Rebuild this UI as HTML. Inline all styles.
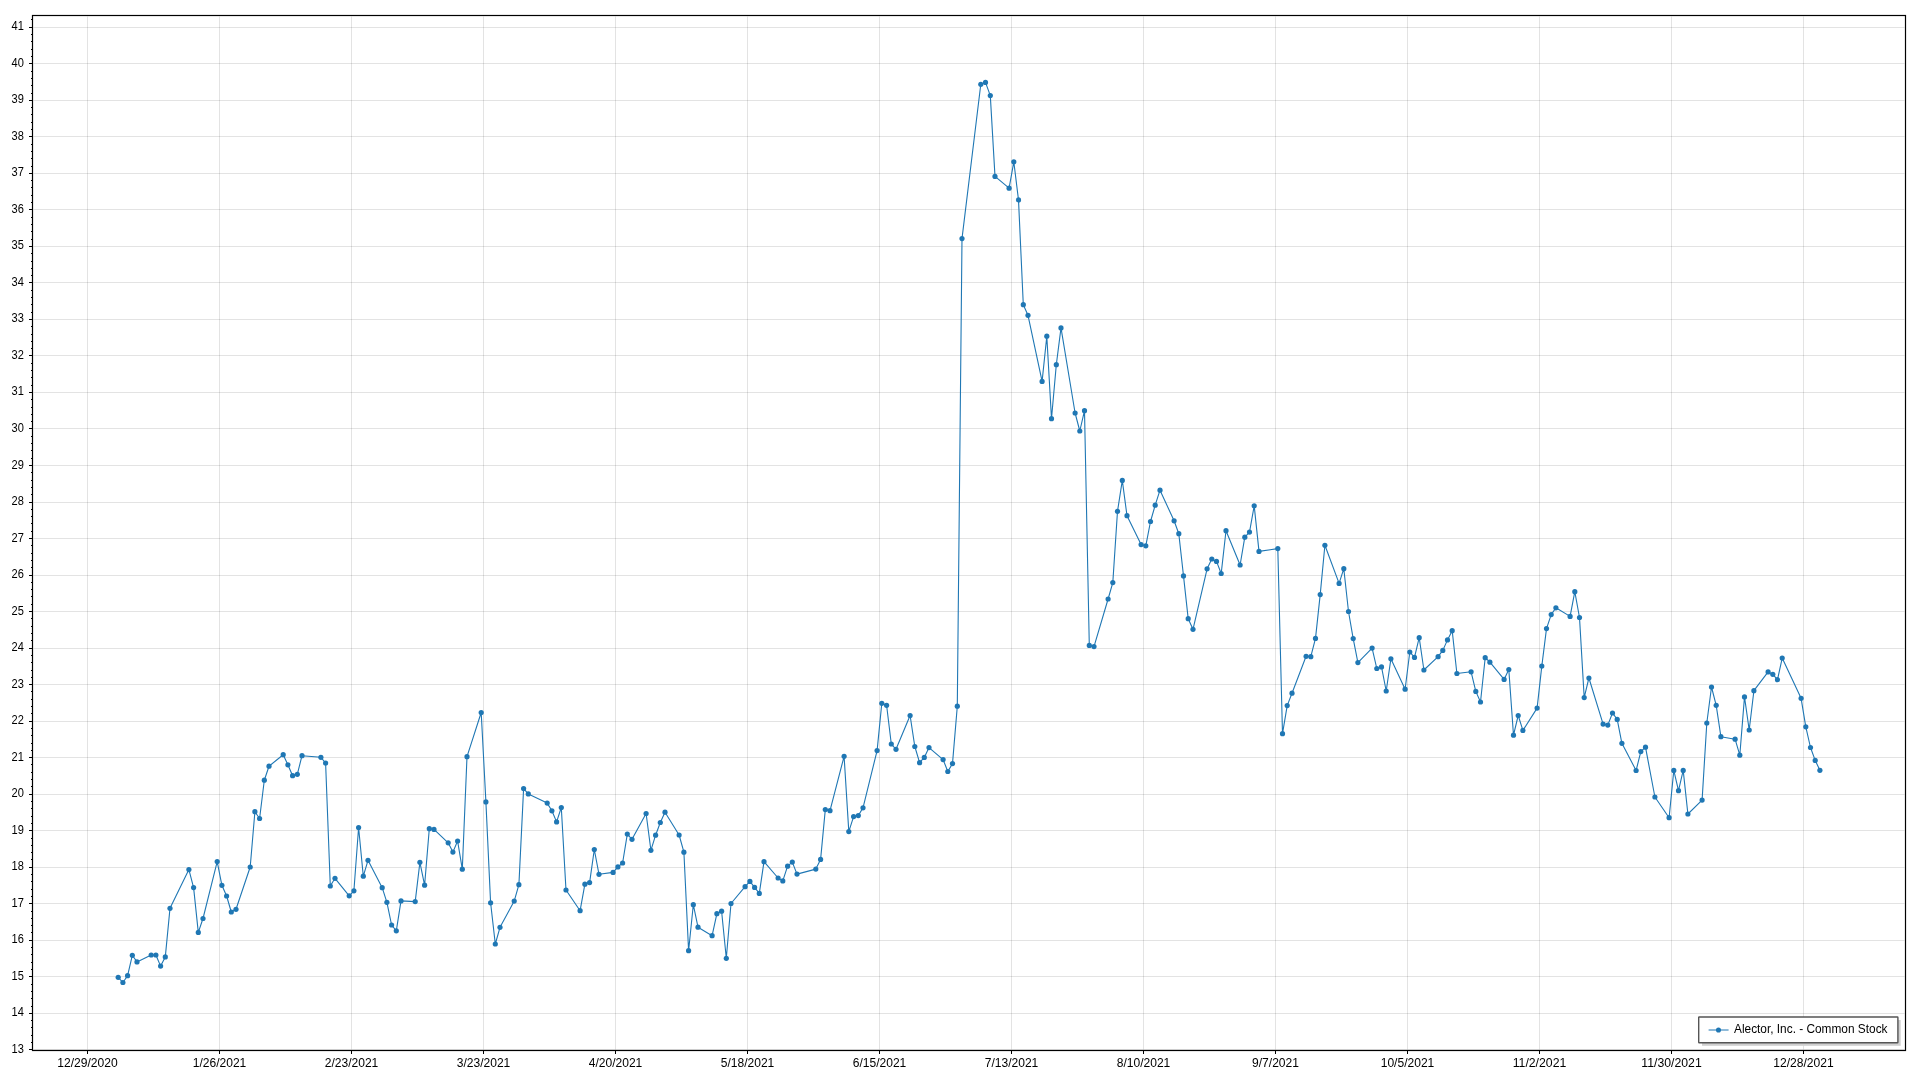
<!DOCTYPE html><html><head><meta charset="utf-8"><style>html,body{margin:0;padding:0;background:#fff;width:1920px;height:1080px;overflow:hidden}svg{display:block;will-change:transform}text{font-family:"Liberation Sans",sans-serif}</style></head><body>
<svg width="1920" height="1080" viewBox="0 0 1920 1080">
<rect x="0" y="0" width="1920" height="1080" fill="#fff"/>
<path d="M33.5 1049.5H1904.5 M33.5 1013.5H1904.5 M33.5 976.5H1904.5 M33.5 940.5H1904.5 M33.5 903.5H1904.5 M33.5 867.5H1904.5 M33.5 830.5H1904.5 M33.5 794.5H1904.5 M33.5 757.5H1904.5 M33.5 721.5H1904.5 M33.5 684.5H1904.5 M33.5 648.5H1904.5 M33.5 611.5H1904.5 M33.5 575.5H1904.5 M33.5 538.5H1904.5 M33.5 502.5H1904.5 M33.5 465.5H1904.5 M33.5 428.5H1904.5 M33.5 392.5H1904.5 M33.5 355.5H1904.5 M33.5 319.5H1904.5 M33.5 282.5H1904.5 M33.5 246.5H1904.5 M33.5 209.5H1904.5 M33.5 173.5H1904.5 M33.5 136.5H1904.5 M33.5 100.5H1904.5 M33.5 63.5H1904.5 M33.5 27.5H1904.5 M87.5 16.5V1049.5 M219.5 16.5V1049.5 M351.5 16.5V1049.5 M483.5 16.5V1049.5 M615.5 16.5V1049.5 M747.5 16.5V1049.5 M879.5 16.5V1049.5 M1011.5 16.5V1049.5 M1143.5 16.5V1049.5 M1275.5 16.5V1049.5 M1407.5 16.5V1049.5 M1539.5 16.5V1049.5 M1671.5 16.5V1049.5 M1803.5 16.5V1049.5" stroke="#000" stroke-opacity="0.11" stroke-width="1" fill="none"/>
<path d="M29.0 1049.5H32.5 M29.0 1013.5H32.5 M29.0 976.5H32.5 M29.0 940.5H32.5 M29.0 903.5H32.5 M29.0 867.5H32.5 M29.0 830.5H32.5 M29.0 794.5H32.5 M29.0 757.5H32.5 M29.0 721.5H32.5 M29.0 684.5H32.5 M29.0 648.5H32.5 M29.0 611.5H32.5 M29.0 575.5H32.5 M29.0 538.5H32.5 M29.0 502.5H32.5 M29.0 465.5H32.5 M29.0 428.5H32.5 M29.0 392.5H32.5 M29.0 355.5H32.5 M29.0 319.5H32.5 M29.0 282.5H32.5 M29.0 246.5H32.5 M29.0 209.5H32.5 M29.0 173.5H32.5 M29.0 136.5H32.5 M29.0 100.5H32.5 M29.0 63.5H32.5 M29.0 27.5H32.5 M31.0 1042.5H32.5 M31.0 1035.5H32.5 M31.0 1027.5H32.5 M31.0 1020.5H32.5 M31.0 1006.5H32.5 M31.0 998.5H32.5 M31.0 991.5H32.5 M31.0 984.5H32.5 M31.0 969.5H32.5 M31.0 962.5H32.5 M31.0 954.5H32.5 M31.0 947.5H32.5 M31.0 932.5H32.5 M31.0 925.5H32.5 M31.0 918.5H32.5 M31.0 911.5H32.5 M31.0 896.5H32.5 M31.0 889.5H32.5 M31.0 881.5H32.5 M31.0 874.5H32.5 M31.0 859.5H32.5 M31.0 852.5H32.5 M31.0 845.5H32.5 M31.0 838.5H32.5 M31.0 823.5H32.5 M31.0 816.5H32.5 M31.0 808.5H32.5 M31.0 801.5H32.5 M31.0 786.5H32.5 M31.0 779.5H32.5 M31.0 772.5H32.5 M31.0 764.5H32.5 M31.0 750.5H32.5 M31.0 743.5H32.5 M31.0 735.5H32.5 M31.0 728.5H32.5 M31.0 713.5H32.5 M31.0 706.5H32.5 M31.0 699.5H32.5 M31.0 691.5H32.5 M31.0 677.5H32.5 M31.0 670.5H32.5 M31.0 662.5H32.5 M31.0 655.5H32.5 M31.0 640.5H32.5 M31.0 633.5H32.5 M31.0 626.5H32.5 M31.0 618.5H32.5 M31.0 604.5H32.5 M31.0 596.5H32.5 M31.0 589.5H32.5 M31.0 582.5H32.5 M31.0 567.5H32.5 M31.0 560.5H32.5 M31.0 553.5H32.5 M31.0 545.5H32.5 M31.0 531.5H32.5 M31.0 523.5H32.5 M31.0 516.5H32.5 M31.0 509.5H32.5 M31.0 494.5H32.5 M31.0 487.5H32.5 M31.0 480.5H32.5 M31.0 472.5H32.5 M31.0 458.5H32.5 M31.0 450.5H32.5 M31.0 443.5H32.5 M31.0 436.5H32.5 M31.0 421.5H32.5 M31.0 414.5H32.5 M31.0 407.5H32.5 M31.0 399.5H32.5 M31.0 385.5H32.5 M31.0 377.5H32.5 M31.0 370.5H32.5 M31.0 363.5H32.5 M31.0 348.5H32.5 M31.0 341.5H32.5 M31.0 334.5H32.5 M31.0 326.5H32.5 M31.0 312.5H32.5 M31.0 304.5H32.5 M31.0 297.5H32.5 M31.0 290.5H32.5 M31.0 275.5H32.5 M31.0 268.5H32.5 M31.0 261.5H32.5 M31.0 253.5H32.5 M31.0 239.5H32.5 M31.0 231.5H32.5 M31.0 224.5H32.5 M31.0 217.5H32.5 M31.0 202.5H32.5 M31.0 195.5H32.5 M31.0 187.5H32.5 M31.0 180.5H32.5 M31.0 166.5H32.5 M31.0 158.5H32.5 M31.0 151.5H32.5 M31.0 144.5H32.5 M31.0 129.5H32.5 M31.0 122.5H32.5 M31.0 114.5H32.5 M31.0 107.5H32.5 M31.0 93.5H32.5 M31.0 85.5H32.5 M31.0 78.5H32.5 M31.0 71.5H32.5 M31.0 56.5H32.5 M31.0 49.5H32.5 M31.0 41.5H32.5 M31.0 34.5H32.5 M31.0 19.5H32.5 M87.5 1050.5V1054.0 M219.5 1050.5V1054.0 M351.5 1050.5V1054.0 M483.5 1050.5V1054.0 M615.5 1050.5V1054.0 M747.5 1050.5V1054.0 M879.5 1050.5V1054.0 M1011.5 1050.5V1054.0 M1143.5 1050.5V1054.0 M1275.5 1050.5V1054.0 M1407.5 1050.5V1054.0 M1539.5 1050.5V1054.0 M1671.5 1050.5V1054.0 M1803.5 1050.5V1054.0" stroke="#000" stroke-width="1" fill="none"/>
<rect x="32.5" y="15.5" width="1873.0" height="1035.0" fill="none" stroke="#000" stroke-width="1.2"/>
<text x="23.9" y="1052.8" font-size="12.5" text-anchor="end" fill="#000" textLength="12.3" lengthAdjust="spacingAndGlyphs">13</text>
<text x="23.9" y="1015.8" font-size="12.5" text-anchor="end" fill="#000" textLength="12.3" lengthAdjust="spacingAndGlyphs">14</text>
<text x="23.9" y="979.8" font-size="12.5" text-anchor="end" fill="#000" textLength="12.3" lengthAdjust="spacingAndGlyphs">15</text>
<text x="23.9" y="942.8" font-size="12.5" text-anchor="end" fill="#000" textLength="12.3" lengthAdjust="spacingAndGlyphs">16</text>
<text x="23.9" y="906.8" font-size="12.5" text-anchor="end" fill="#000" textLength="12.3" lengthAdjust="spacingAndGlyphs">17</text>
<text x="23.9" y="869.8" font-size="12.5" text-anchor="end" fill="#000" textLength="12.3" lengthAdjust="spacingAndGlyphs">18</text>
<text x="23.9" y="833.8" font-size="12.5" text-anchor="end" fill="#000" textLength="12.3" lengthAdjust="spacingAndGlyphs">19</text>
<text x="23.9" y="796.8" font-size="12.5" text-anchor="end" fill="#000" textLength="12.3" lengthAdjust="spacingAndGlyphs">20</text>
<text x="23.9" y="760.8" font-size="12.5" text-anchor="end" fill="#000" textLength="12.3" lengthAdjust="spacingAndGlyphs">21</text>
<text x="23.9" y="723.8" font-size="12.5" text-anchor="end" fill="#000" textLength="12.3" lengthAdjust="spacingAndGlyphs">22</text>
<text x="23.9" y="687.8" font-size="12.5" text-anchor="end" fill="#000" textLength="12.3" lengthAdjust="spacingAndGlyphs">23</text>
<text x="23.9" y="650.8" font-size="12.5" text-anchor="end" fill="#000" textLength="12.3" lengthAdjust="spacingAndGlyphs">24</text>
<text x="23.9" y="614.8" font-size="12.5" text-anchor="end" fill="#000" textLength="12.3" lengthAdjust="spacingAndGlyphs">25</text>
<text x="23.9" y="577.8" font-size="12.5" text-anchor="end" fill="#000" textLength="12.3" lengthAdjust="spacingAndGlyphs">26</text>
<text x="23.9" y="541.8" font-size="12.5" text-anchor="end" fill="#000" textLength="12.3" lengthAdjust="spacingAndGlyphs">27</text>
<text x="23.9" y="504.8" font-size="12.5" text-anchor="end" fill="#000" textLength="12.3" lengthAdjust="spacingAndGlyphs">28</text>
<text x="23.9" y="468.8" font-size="12.5" text-anchor="end" fill="#000" textLength="12.3" lengthAdjust="spacingAndGlyphs">29</text>
<text x="23.9" y="431.8" font-size="12.5" text-anchor="end" fill="#000" textLength="12.3" lengthAdjust="spacingAndGlyphs">30</text>
<text x="23.9" y="394.8" font-size="12.5" text-anchor="end" fill="#000" textLength="12.3" lengthAdjust="spacingAndGlyphs">31</text>
<text x="23.9" y="358.8" font-size="12.5" text-anchor="end" fill="#000" textLength="12.3" lengthAdjust="spacingAndGlyphs">32</text>
<text x="23.9" y="321.8" font-size="12.5" text-anchor="end" fill="#000" textLength="12.3" lengthAdjust="spacingAndGlyphs">33</text>
<text x="23.9" y="285.8" font-size="12.5" text-anchor="end" fill="#000" textLength="12.3" lengthAdjust="spacingAndGlyphs">34</text>
<text x="23.9" y="248.8" font-size="12.5" text-anchor="end" fill="#000" textLength="12.3" lengthAdjust="spacingAndGlyphs">35</text>
<text x="23.9" y="212.8" font-size="12.5" text-anchor="end" fill="#000" textLength="12.3" lengthAdjust="spacingAndGlyphs">36</text>
<text x="23.9" y="175.8" font-size="12.5" text-anchor="end" fill="#000" textLength="12.3" lengthAdjust="spacingAndGlyphs">37</text>
<text x="23.9" y="139.8" font-size="12.5" text-anchor="end" fill="#000" textLength="12.3" lengthAdjust="spacingAndGlyphs">38</text>
<text x="23.9" y="102.8" font-size="12.5" text-anchor="end" fill="#000" textLength="12.3" lengthAdjust="spacingAndGlyphs">39</text>
<text x="23.9" y="66.8" font-size="12.5" text-anchor="end" fill="#000" textLength="12.3" lengthAdjust="spacingAndGlyphs">40</text>
<text x="23.9" y="29.8" font-size="12.5" text-anchor="end" fill="#000" textLength="12.3" lengthAdjust="spacingAndGlyphs">41</text>
<text x="87.5" y="1067" font-size="12.5" text-anchor="middle" fill="#000" textLength="60.4" lengthAdjust="spacingAndGlyphs">12/29/2020</text>
<text x="219.5" y="1067" font-size="12.5" text-anchor="middle" fill="#000" textLength="53.6" lengthAdjust="spacingAndGlyphs">1/26/2021</text>
<text x="351.5" y="1067" font-size="12.5" text-anchor="middle" fill="#000" textLength="53.6" lengthAdjust="spacingAndGlyphs">2/23/2021</text>
<text x="483.5" y="1067" font-size="12.5" text-anchor="middle" fill="#000" textLength="53.6" lengthAdjust="spacingAndGlyphs">3/23/2021</text>
<text x="615.5" y="1067" font-size="12.5" text-anchor="middle" fill="#000" textLength="53.6" lengthAdjust="spacingAndGlyphs">4/20/2021</text>
<text x="747.5" y="1067" font-size="12.5" text-anchor="middle" fill="#000" textLength="53.6" lengthAdjust="spacingAndGlyphs">5/18/2021</text>
<text x="879.5" y="1067" font-size="12.5" text-anchor="middle" fill="#000" textLength="53.6" lengthAdjust="spacingAndGlyphs">6/15/2021</text>
<text x="1011.5" y="1067" font-size="12.5" text-anchor="middle" fill="#000" textLength="53.6" lengthAdjust="spacingAndGlyphs">7/13/2021</text>
<text x="1143.5" y="1067" font-size="12.5" text-anchor="middle" fill="#000" textLength="53.6" lengthAdjust="spacingAndGlyphs">8/10/2021</text>
<text x="1275.5" y="1067" font-size="12.5" text-anchor="middle" fill="#000" textLength="46.9" lengthAdjust="spacingAndGlyphs">9/7/2021</text>
<text x="1407.5" y="1067" font-size="12.5" text-anchor="middle" fill="#000" textLength="53.6" lengthAdjust="spacingAndGlyphs">10/5/2021</text>
<text x="1539.5" y="1067" font-size="12.5" text-anchor="middle" fill="#000" textLength="53.6" lengthAdjust="spacingAndGlyphs">11/2/2021</text>
<text x="1671.5" y="1067" font-size="12.5" text-anchor="middle" fill="#000" textLength="60.4" lengthAdjust="spacingAndGlyphs">11/30/2021</text>
<text x="1803.5" y="1067" font-size="12.5" text-anchor="middle" fill="#000" textLength="60.4" lengthAdjust="spacingAndGlyphs">12/28/2021</text>
<path d="M118.2 977.3 L122.9 982.5 L127.6 975.7 L132.3 955.3 L137.0 961.9 L151.2 955.0 L155.9 955.0 L160.6 966.1 L165.3 956.9 L170.0 908.3 L188.9 869.6 L193.6 887.6 L198.3 932.4 L203.0 918.5 L217.2 861.6 L221.9 885.3 L226.6 896.0 L231.3 912.0 L236.0 909.3 L250.2 867.0 L254.9 811.7 L259.6 818.5 L264.3 780.2 L269.0 766.2 L283.2 754.7 L287.9 764.8 L292.6 775.7 L297.3 774.3 L302.0 755.7 L320.9 757.3 L325.6 763.0 L330.3 886.0 L335.0 878.3 L349.2 895.8 L353.9 890.8 L358.6 827.5 L363.3 876.2 L368.0 860.3 L382.2 887.7 L386.9 902.3 L391.6 925.0 L396.3 930.8 L401.0 900.9 L415.2 901.6 L419.9 862.3 L424.6 885.2 L429.3 828.7 L434.0 829.4 L448.2 842.8 L452.9 852.1 L457.6 841.0 L462.3 869.2 L467.0 756.7 L481.2 712.5 L485.9 801.9 L490.6 902.8 L495.3 944.0 L500.0 927.3 L514.2 901.1 L518.9 884.7 L523.6 788.6 L528.3 793.9 L547.2 803.1 L551.9 810.8 L556.6 821.9 L561.3 807.5 L566.0 890.0 L580.1 910.7 L584.9 884.2 L589.6 882.6 L594.3 849.5 L599.0 874.3 L613.1 872.4 L617.9 866.9 L622.6 863.0 L627.3 834.1 L632.0 839.3 L646.1 813.5 L650.9 850.3 L655.6 835.2 L660.3 822.5 L665.0 812.2 L679.1 835.0 L683.9 852.2 L688.6 950.7 L693.3 904.7 L698.0 927.2 L712.1 935.7 L716.9 913.7 L721.6 911.2 L726.3 958.3 L731.0 903.5 L745.1 886.7 L749.9 881.4 L754.6 887.4 L759.3 893.4 L764.0 861.7 L778.1 878.0 L782.8 880.9 L787.6 866.2 L792.3 862.1 L797.0 874.1 L815.8 869.1 L820.6 859.4 L825.3 809.6 L830.0 810.7 L844.1 756.3 L848.8 831.6 L853.6 816.6 L858.3 815.6 L863.0 807.8 L877.1 750.6 L881.8 703.3 L886.6 705.3 L891.3 744.0 L896.0 749.3 L910.1 715.5 L914.8 746.5 L919.6 762.7 L924.3 757.4 L929.0 747.6 L943.1 759.6 L947.8 771.5 L952.5 763.6 L957.3 706.2 L962.0 238.6 L980.8 84.3 L985.5 82.4 L990.3 95.6 L995.0 176.4 L1009.1 188.2 L1013.8 161.8 L1018.5 199.9 L1023.3 304.7 L1028.0 315.3 L1042.1 381.4 L1046.8 336.2 L1051.5 418.7 L1056.3 364.7 L1061.0 327.9 L1075.1 413.0 L1079.8 431.0 L1084.5 410.7 L1089.3 645.4 L1094.0 646.6 L1108.1 599.0 L1112.8 582.6 L1117.5 511.3 L1122.3 480.4 L1127.0 515.7 L1141.1 544.6 L1145.8 545.8 L1150.5 521.5 L1155.2 505.2 L1160.0 490.2 L1174.1 520.8 L1178.8 533.7 L1183.5 575.9 L1188.2 618.7 L1193.0 629.3 L1207.1 568.8 L1211.8 559.0 L1216.5 561.4 L1221.2 573.5 L1226.0 530.7 L1240.1 565.0 L1244.8 537.2 L1249.5 532.1 L1254.2 505.8 L1259.0 551.4 L1277.8 548.6 L1282.5 733.7 L1287.2 705.6 L1292.0 693.2 L1306.1 656.3 L1310.8 656.7 L1315.5 638.4 L1320.2 594.6 L1324.9 545.3 L1339.1 583.4 L1343.8 568.7 L1348.5 611.5 L1353.2 638.6 L1357.9 662.6 L1372.1 648.1 L1376.8 668.5 L1381.5 666.9 L1386.2 691.0 L1390.9 658.8 L1405.1 689.2 L1409.8 652.0 L1414.5 657.4 L1419.2 637.7 L1423.9 670.0 L1438.1 656.7 L1442.8 650.4 L1447.5 639.9 L1452.2 630.7 L1456.9 673.5 L1471.1 671.8 L1475.8 691.4 L1480.5 702.0 L1485.2 657.7 L1489.9 662.2 L1504.1 679.4 L1508.8 669.5 L1513.5 735.2 L1518.2 715.5 L1522.9 730.4 L1537.1 708.1 L1541.8 666.1 L1546.5 628.6 L1551.2 614.6 L1555.9 607.8 L1570.1 616.4 L1574.8 591.7 L1579.5 617.5 L1584.2 697.6 L1588.9 678.0 L1603.1 724.1 L1607.8 725.1 L1612.5 713.0 L1617.2 719.4 L1621.9 743.3 L1636.1 770.5 L1640.8 751.6 L1645.5 747.2 L1654.9 797.0 L1669.1 817.7 L1673.8 770.4 L1678.5 790.7 L1683.2 770.4 L1687.9 814.0 L1702.1 800.1 L1706.8 723.0 L1711.5 687.0 L1716.2 705.3 L1720.9 736.7 L1735.1 739.2 L1739.8 755.2 L1744.5 696.9 L1749.2 730.0 L1753.9 690.7 L1768.1 671.9 L1772.8 674.3 L1777.5 679.7 L1782.2 658.1 L1801.1 698.3 L1805.8 726.8 L1810.5 747.5 L1815.2 760.4 L1819.9 770.3" stroke="#1f77b4" stroke-width="1.1" fill="none" stroke-linejoin="round"/>
<g fill="#1f77b4"><circle cx="118.2" cy="977.3" r="2.6"/><circle cx="122.9" cy="982.5" r="2.6"/><circle cx="127.6" cy="975.7" r="2.6"/><circle cx="132.3" cy="955.3" r="2.6"/><circle cx="137.0" cy="961.9" r="2.6"/><circle cx="151.2" cy="955.0" r="2.6"/><circle cx="155.9" cy="955.0" r="2.6"/><circle cx="160.6" cy="966.1" r="2.6"/><circle cx="165.3" cy="956.9" r="2.6"/><circle cx="170.0" cy="908.3" r="2.6"/><circle cx="188.9" cy="869.6" r="2.6"/><circle cx="193.6" cy="887.6" r="2.6"/><circle cx="198.3" cy="932.4" r="2.6"/><circle cx="203.0" cy="918.5" r="2.6"/><circle cx="217.2" cy="861.6" r="2.6"/><circle cx="221.9" cy="885.3" r="2.6"/><circle cx="226.6" cy="896.0" r="2.6"/><circle cx="231.3" cy="912.0" r="2.6"/><circle cx="236.0" cy="909.3" r="2.6"/><circle cx="250.2" cy="867.0" r="2.6"/><circle cx="254.9" cy="811.7" r="2.6"/><circle cx="259.6" cy="818.5" r="2.6"/><circle cx="264.3" cy="780.2" r="2.6"/><circle cx="269.0" cy="766.2" r="2.6"/><circle cx="283.2" cy="754.7" r="2.6"/><circle cx="287.9" cy="764.8" r="2.6"/><circle cx="292.6" cy="775.7" r="2.6"/><circle cx="297.3" cy="774.3" r="2.6"/><circle cx="302.0" cy="755.7" r="2.6"/><circle cx="320.9" cy="757.3" r="2.6"/><circle cx="325.6" cy="763.0" r="2.6"/><circle cx="330.3" cy="886.0" r="2.6"/><circle cx="335.0" cy="878.3" r="2.6"/><circle cx="349.2" cy="895.8" r="2.6"/><circle cx="353.9" cy="890.8" r="2.6"/><circle cx="358.6" cy="827.5" r="2.6"/><circle cx="363.3" cy="876.2" r="2.6"/><circle cx="368.0" cy="860.3" r="2.6"/><circle cx="382.2" cy="887.7" r="2.6"/><circle cx="386.9" cy="902.3" r="2.6"/><circle cx="391.6" cy="925.0" r="2.6"/><circle cx="396.3" cy="930.8" r="2.6"/><circle cx="401.0" cy="900.9" r="2.6"/><circle cx="415.2" cy="901.6" r="2.6"/><circle cx="419.9" cy="862.3" r="2.6"/><circle cx="424.6" cy="885.2" r="2.6"/><circle cx="429.3" cy="828.7" r="2.6"/><circle cx="434.0" cy="829.4" r="2.6"/><circle cx="448.2" cy="842.8" r="2.6"/><circle cx="452.9" cy="852.1" r="2.6"/><circle cx="457.6" cy="841.0" r="2.6"/><circle cx="462.3" cy="869.2" r="2.6"/><circle cx="467.0" cy="756.7" r="2.6"/><circle cx="481.2" cy="712.5" r="2.6"/><circle cx="485.9" cy="801.9" r="2.6"/><circle cx="490.6" cy="902.8" r="2.6"/><circle cx="495.3" cy="944.0" r="2.6"/><circle cx="500.0" cy="927.3" r="2.6"/><circle cx="514.2" cy="901.1" r="2.6"/><circle cx="518.9" cy="884.7" r="2.6"/><circle cx="523.6" cy="788.6" r="2.6"/><circle cx="528.3" cy="793.9" r="2.6"/><circle cx="547.2" cy="803.1" r="2.6"/><circle cx="551.9" cy="810.8" r="2.6"/><circle cx="556.6" cy="821.9" r="2.6"/><circle cx="561.3" cy="807.5" r="2.6"/><circle cx="566.0" cy="890.0" r="2.6"/><circle cx="580.1" cy="910.7" r="2.6"/><circle cx="584.9" cy="884.2" r="2.6"/><circle cx="589.6" cy="882.6" r="2.6"/><circle cx="594.3" cy="849.5" r="2.6"/><circle cx="599.0" cy="874.3" r="2.6"/><circle cx="613.1" cy="872.4" r="2.6"/><circle cx="617.9" cy="866.9" r="2.6"/><circle cx="622.6" cy="863.0" r="2.6"/><circle cx="627.3" cy="834.1" r="2.6"/><circle cx="632.0" cy="839.3" r="2.6"/><circle cx="646.1" cy="813.5" r="2.6"/><circle cx="650.9" cy="850.3" r="2.6"/><circle cx="655.6" cy="835.2" r="2.6"/><circle cx="660.3" cy="822.5" r="2.6"/><circle cx="665.0" cy="812.2" r="2.6"/><circle cx="679.1" cy="835.0" r="2.6"/><circle cx="683.9" cy="852.2" r="2.6"/><circle cx="688.6" cy="950.7" r="2.6"/><circle cx="693.3" cy="904.7" r="2.6"/><circle cx="698.0" cy="927.2" r="2.6"/><circle cx="712.1" cy="935.7" r="2.6"/><circle cx="716.9" cy="913.7" r="2.6"/><circle cx="721.6" cy="911.2" r="2.6"/><circle cx="726.3" cy="958.3" r="2.6"/><circle cx="731.0" cy="903.5" r="2.6"/><circle cx="745.1" cy="886.7" r="2.6"/><circle cx="749.9" cy="881.4" r="2.6"/><circle cx="754.6" cy="887.4" r="2.6"/><circle cx="759.3" cy="893.4" r="2.6"/><circle cx="764.0" cy="861.7" r="2.6"/><circle cx="778.1" cy="878.0" r="2.6"/><circle cx="782.8" cy="880.9" r="2.6"/><circle cx="787.6" cy="866.2" r="2.6"/><circle cx="792.3" cy="862.1" r="2.6"/><circle cx="797.0" cy="874.1" r="2.6"/><circle cx="815.8" cy="869.1" r="2.6"/><circle cx="820.6" cy="859.4" r="2.6"/><circle cx="825.3" cy="809.6" r="2.6"/><circle cx="830.0" cy="810.7" r="2.6"/><circle cx="844.1" cy="756.3" r="2.6"/><circle cx="848.8" cy="831.6" r="2.6"/><circle cx="853.6" cy="816.6" r="2.6"/><circle cx="858.3" cy="815.6" r="2.6"/><circle cx="863.0" cy="807.8" r="2.6"/><circle cx="877.1" cy="750.6" r="2.6"/><circle cx="881.8" cy="703.3" r="2.6"/><circle cx="886.6" cy="705.3" r="2.6"/><circle cx="891.3" cy="744.0" r="2.6"/><circle cx="896.0" cy="749.3" r="2.6"/><circle cx="910.1" cy="715.5" r="2.6"/><circle cx="914.8" cy="746.5" r="2.6"/><circle cx="919.6" cy="762.7" r="2.6"/><circle cx="924.3" cy="757.4" r="2.6"/><circle cx="929.0" cy="747.6" r="2.6"/><circle cx="943.1" cy="759.6" r="2.6"/><circle cx="947.8" cy="771.5" r="2.6"/><circle cx="952.5" cy="763.6" r="2.6"/><circle cx="957.3" cy="706.2" r="2.6"/><circle cx="962.0" cy="238.6" r="2.6"/><circle cx="980.8" cy="84.3" r="2.6"/><circle cx="985.5" cy="82.4" r="2.6"/><circle cx="990.3" cy="95.6" r="2.6"/><circle cx="995.0" cy="176.4" r="2.6"/><circle cx="1009.1" cy="188.2" r="2.6"/><circle cx="1013.8" cy="161.8" r="2.6"/><circle cx="1018.5" cy="199.9" r="2.6"/><circle cx="1023.3" cy="304.7" r="2.6"/><circle cx="1028.0" cy="315.3" r="2.6"/><circle cx="1042.1" cy="381.4" r="2.6"/><circle cx="1046.8" cy="336.2" r="2.6"/><circle cx="1051.5" cy="418.7" r="2.6"/><circle cx="1056.3" cy="364.7" r="2.6"/><circle cx="1061.0" cy="327.9" r="2.6"/><circle cx="1075.1" cy="413.0" r="2.6"/><circle cx="1079.8" cy="431.0" r="2.6"/><circle cx="1084.5" cy="410.7" r="2.6"/><circle cx="1089.3" cy="645.4" r="2.6"/><circle cx="1094.0" cy="646.6" r="2.6"/><circle cx="1108.1" cy="599.0" r="2.6"/><circle cx="1112.8" cy="582.6" r="2.6"/><circle cx="1117.5" cy="511.3" r="2.6"/><circle cx="1122.3" cy="480.4" r="2.6"/><circle cx="1127.0" cy="515.7" r="2.6"/><circle cx="1141.1" cy="544.6" r="2.6"/><circle cx="1145.8" cy="545.8" r="2.6"/><circle cx="1150.5" cy="521.5" r="2.6"/><circle cx="1155.2" cy="505.2" r="2.6"/><circle cx="1160.0" cy="490.2" r="2.6"/><circle cx="1174.1" cy="520.8" r="2.6"/><circle cx="1178.8" cy="533.7" r="2.6"/><circle cx="1183.5" cy="575.9" r="2.6"/><circle cx="1188.2" cy="618.7" r="2.6"/><circle cx="1193.0" cy="629.3" r="2.6"/><circle cx="1207.1" cy="568.8" r="2.6"/><circle cx="1211.8" cy="559.0" r="2.6"/><circle cx="1216.5" cy="561.4" r="2.6"/><circle cx="1221.2" cy="573.5" r="2.6"/><circle cx="1226.0" cy="530.7" r="2.6"/><circle cx="1240.1" cy="565.0" r="2.6"/><circle cx="1244.8" cy="537.2" r="2.6"/><circle cx="1249.5" cy="532.1" r="2.6"/><circle cx="1254.2" cy="505.8" r="2.6"/><circle cx="1259.0" cy="551.4" r="2.6"/><circle cx="1277.8" cy="548.6" r="2.6"/><circle cx="1282.5" cy="733.7" r="2.6"/><circle cx="1287.2" cy="705.6" r="2.6"/><circle cx="1292.0" cy="693.2" r="2.6"/><circle cx="1306.1" cy="656.3" r="2.6"/><circle cx="1310.8" cy="656.7" r="2.6"/><circle cx="1315.5" cy="638.4" r="2.6"/><circle cx="1320.2" cy="594.6" r="2.6"/><circle cx="1324.9" cy="545.3" r="2.6"/><circle cx="1339.1" cy="583.4" r="2.6"/><circle cx="1343.8" cy="568.7" r="2.6"/><circle cx="1348.5" cy="611.5" r="2.6"/><circle cx="1353.2" cy="638.6" r="2.6"/><circle cx="1357.9" cy="662.6" r="2.6"/><circle cx="1372.1" cy="648.1" r="2.6"/><circle cx="1376.8" cy="668.5" r="2.6"/><circle cx="1381.5" cy="666.9" r="2.6"/><circle cx="1386.2" cy="691.0" r="2.6"/><circle cx="1390.9" cy="658.8" r="2.6"/><circle cx="1405.1" cy="689.2" r="2.6"/><circle cx="1409.8" cy="652.0" r="2.6"/><circle cx="1414.5" cy="657.4" r="2.6"/><circle cx="1419.2" cy="637.7" r="2.6"/><circle cx="1423.9" cy="670.0" r="2.6"/><circle cx="1438.1" cy="656.7" r="2.6"/><circle cx="1442.8" cy="650.4" r="2.6"/><circle cx="1447.5" cy="639.9" r="2.6"/><circle cx="1452.2" cy="630.7" r="2.6"/><circle cx="1456.9" cy="673.5" r="2.6"/><circle cx="1471.1" cy="671.8" r="2.6"/><circle cx="1475.8" cy="691.4" r="2.6"/><circle cx="1480.5" cy="702.0" r="2.6"/><circle cx="1485.2" cy="657.7" r="2.6"/><circle cx="1489.9" cy="662.2" r="2.6"/><circle cx="1504.1" cy="679.4" r="2.6"/><circle cx="1508.8" cy="669.5" r="2.6"/><circle cx="1513.5" cy="735.2" r="2.6"/><circle cx="1518.2" cy="715.5" r="2.6"/><circle cx="1522.9" cy="730.4" r="2.6"/><circle cx="1537.1" cy="708.1" r="2.6"/><circle cx="1541.8" cy="666.1" r="2.6"/><circle cx="1546.5" cy="628.6" r="2.6"/><circle cx="1551.2" cy="614.6" r="2.6"/><circle cx="1555.9" cy="607.8" r="2.6"/><circle cx="1570.1" cy="616.4" r="2.6"/><circle cx="1574.8" cy="591.7" r="2.6"/><circle cx="1579.5" cy="617.5" r="2.6"/><circle cx="1584.2" cy="697.6" r="2.6"/><circle cx="1588.9" cy="678.0" r="2.6"/><circle cx="1603.1" cy="724.1" r="2.6"/><circle cx="1607.8" cy="725.1" r="2.6"/><circle cx="1612.5" cy="713.0" r="2.6"/><circle cx="1617.2" cy="719.4" r="2.6"/><circle cx="1621.9" cy="743.3" r="2.6"/><circle cx="1636.1" cy="770.5" r="2.6"/><circle cx="1640.8" cy="751.6" r="2.6"/><circle cx="1645.5" cy="747.2" r="2.6"/><circle cx="1654.9" cy="797.0" r="2.6"/><circle cx="1669.1" cy="817.7" r="2.6"/><circle cx="1673.8" cy="770.4" r="2.6"/><circle cx="1678.5" cy="790.7" r="2.6"/><circle cx="1683.2" cy="770.4" r="2.6"/><circle cx="1687.9" cy="814.0" r="2.6"/><circle cx="1702.1" cy="800.1" r="2.6"/><circle cx="1706.8" cy="723.0" r="2.6"/><circle cx="1711.5" cy="687.0" r="2.6"/><circle cx="1716.2" cy="705.3" r="2.6"/><circle cx="1720.9" cy="736.7" r="2.6"/><circle cx="1735.1" cy="739.2" r="2.6"/><circle cx="1739.8" cy="755.2" r="2.6"/><circle cx="1744.5" cy="696.9" r="2.6"/><circle cx="1749.2" cy="730.0" r="2.6"/><circle cx="1753.9" cy="690.7" r="2.6"/><circle cx="1768.1" cy="671.9" r="2.6"/><circle cx="1772.8" cy="674.3" r="2.6"/><circle cx="1777.5" cy="679.7" r="2.6"/><circle cx="1782.2" cy="658.1" r="2.6"/><circle cx="1801.1" cy="698.3" r="2.6"/><circle cx="1805.8" cy="726.8" r="2.6"/><circle cx="1810.5" cy="747.5" r="2.6"/><circle cx="1815.2" cy="760.4" r="2.6"/><circle cx="1819.9" cy="770.3" r="2.6"/></g>
<rect x="1702" y="1020" width="198.7" height="25.8" fill="#d0d0d0"/>
<rect x="1698.7" y="1017.0" width="199.2" height="25.7" rx="0.5" fill="#fff" stroke="#555" stroke-width="1.4"/>
<path d="M1708.6 1030H1728.6" stroke="#1f77b4" stroke-width="1"/>
<circle cx="1718.5" cy="1030" r="2.55" fill="#1f77b4"/>
<text x="1734" y="1033.2" font-size="12.2" fill="#000" textLength="153.5" lengthAdjust="spacingAndGlyphs">Alector, Inc. - Common Stock</text>
</svg></body></html>
